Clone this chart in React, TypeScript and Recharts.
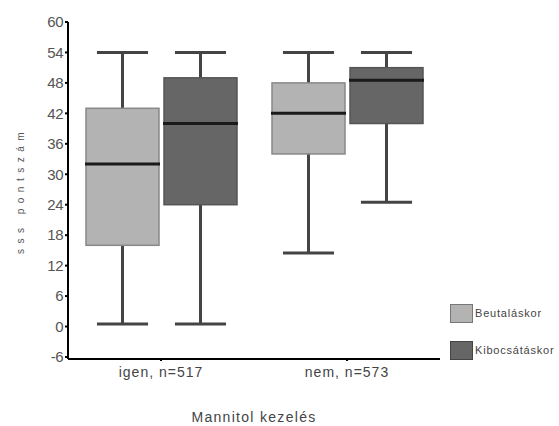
import React from "react"
import { ComposedChart, Bar, XAxis, YAxis, Legend } from "recharts"

const categories = ["igen, n=517", "nem, n=573"]

// Beutaláskor (light)
const beutMin = [0.5, 14.5]
const beutQ1 = [16, 34]
const beutMed = [32, 42]
const beutQ3 = [43, 48]
const beutMax = [54, 54]

// Kibocsátáskor (dark)
const kiMin = [0.5, 24.5]
const kiQ1 = [24, 40]
const kiMed = [40, 48.5]
const kiQ3 = [49, 51]
const kiMax = [54, 54]

const yTicks = [-6, 0, 6, 12, 18, 24, 30, 36, 42, 48, 54, 60]

const data = categories.map((name, i) => ({
  name,
  beut: { min: beutMin[i], q1: beutQ1[i], med: beutMed[i], q3: beutQ3[i], max: beutMax[i] },
  ki: { min: kiMin[i], q1: kiQ1[i], med: kiMed[i], q3: kiQ3[i], max: kiMax[i] },
}))

const FONT = "'Liberation Sans', Arial, sans-serif"

function makeBox(key: "beut" | "ki", fill: string, border: string) {
  return (props: any) => {
    const { x, y, width, height, payload } = props
    const s = payload[key]
    // linear map inside the range bar (max at y, min at y + height)
    const py = (v: number) => y + ((s.max - v) / (s.max - s.min)) * height
    const cx = x + width / 2
    const cap = width * 0.35
    return (
      <g>
        <line x1={cx} x2={cx} y1={py(s.max)} y2={py(s.q3)} stroke="#444" strokeWidth={3} />
        <line x1={cx} x2={cx} y1={py(s.q1)} y2={py(s.min)} stroke="#444" strokeWidth={3} />
        <line x1={cx - cap} x2={cx + cap} y1={py(s.max)} y2={py(s.max)} stroke="#444" strokeWidth={3} />
        <line x1={cx - cap} x2={cx + cap} y1={py(s.min)} y2={py(s.min)} stroke="#444" strokeWidth={3} />
        <rect
          x={x}
          y={py(s.q3)}
          width={width}
          height={py(s.q1) - py(s.q3)}
          fill={fill}
          stroke={border}
          strokeWidth={1.5}
        />
        <line x1={x - 1} x2={x + width + 1} y1={py(s.med)} y2={py(s.med)} stroke="#1a1a1a" strokeWidth={3} />
      </g>
    )
  }
}

const renderLegend = (props: any) => {
  const { payload } = props
  return (
    <div style={{ fontFamily: FONT }}>
      {(payload || []).map((p: any, i: number) => (
        <div key={i} style={{ display: "flex", alignItems: "center", height: 20, marginBottom: 17 }}>
          <div
            style={{
              width: 21,
              height: 17,
              background: p.color,
              border: "1.5px solid " + (i === 0 ? "#777" : "#444"),
            }}
          />
          <span style={{ fontSize: 11, letterSpacing: 0.8, color: "#444", marginLeft: 2, whiteSpace: "nowrap" }}>
            {p.value}
          </span>
        </div>
      ))}
    </div>
  )
}

export default function App() {
  return (
    <div style={{ position: "absolute", left: 0, top: 0, width: 559, height: 426, background: "#fff", overflow: "hidden" }}>
      <ComposedChart
        width={559}
        height={426}
        data={data}
        margin={{ top: 22, right: 119, bottom: 37, left: 0 }}
        barSize={73}
        barGap={5}
      >
        <XAxis
          dataKey="name"
          height={30}
          axisLine={{ stroke: "#000", strokeWidth: 2 }}
          tickLine={{ stroke: "#000", strokeWidth: 2 }}
          tickSize={2}
          tickMargin={6}
          tick={{ fill: "#444", fontSize: 14, fontFamily: FONT, letterSpacing: 1 }}
          label={{
            value: "Mannitol kezelés",
            position: "bottom",
            offset: 23,
            fill: "#444",
            fontSize: 14,
            fontFamily: FONT,
            style: { letterSpacing: 1.3 },
          }}
        />
        <YAxis
          width={68}
          domain={[-6.4, 60]}
          ticks={yTicks}
          interval={0}
          allowDataOverflow
          axisLine={{ stroke: "#000", strokeWidth: 2 }}
          tickLine={{ stroke: "#000", strokeWidth: 2 }}
          tickSize={3}
          tick={{ fill: "#555", fontSize: 15, fontFamily: FONT, letterSpacing: -0.5 }}
          label={{
            value: "sss  pontszám",
            angle: -90,
            position: "insideLeft",
            offset: 20,
            fill: "#555",
            fontSize: 10,
            fontFamily: FONT,
            style: { letterSpacing: 5.5, textAnchor: "middle" },
          }}
        />
        <Legend
          layout="vertical"
          align="center"
          verticalAlign="middle"
          content={renderLegend}
          wrapperStyle={{ position: "absolute", left: 450, top: 303, width: 109 }}
        />
        <Bar
          name="Beutaláskor"
          dataKey={(d: any) => [d.beut.min, d.beut.max]}
          fill="#b3b3b3"
          shape={makeBox("beut", "#b3b3b3", "#888")}
          isAnimationActive={false}
        />
        <Bar
          name="Kibocsátáskor"
          dataKey={(d: any) => [d.ki.min, d.ki.max]}
          fill="#666666"
          shape={makeBox("ki", "#666666", "#555")}
          isAnimationActive={false}
        />
      </ComposedChart>
    </div>
  )
}
